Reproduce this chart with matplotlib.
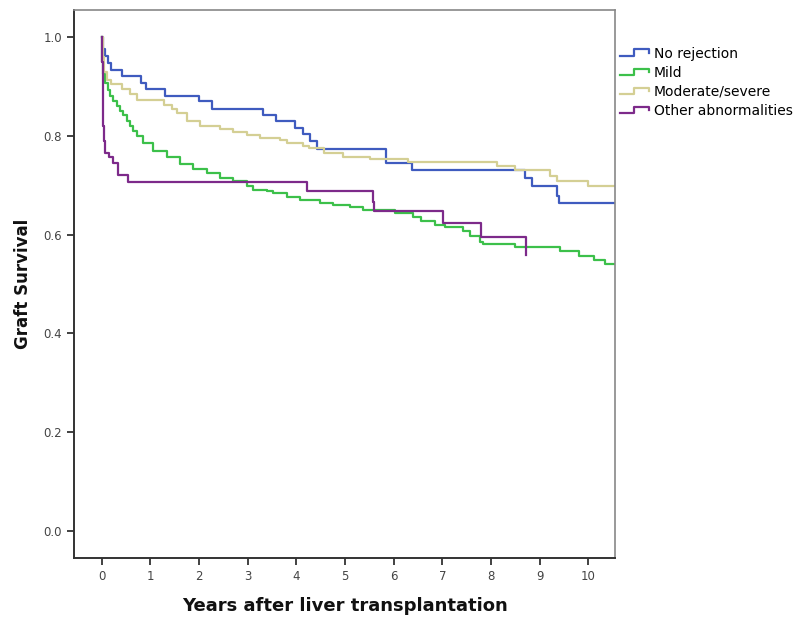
import numpy as np
import matplotlib
matplotlib.use("Agg")
import matplotlib.pyplot as plt
from matplotlib.lines import Line2D
from matplotlib.legend_handler import HandlerLine2D

# Kaplan-Meier estimates (time in years, survival after each step)
no_rej_t = [0, 0.02, 0.06, 0.12, 0.2, 0.41, 0.80, 0.91, 1.30, 2.0, 2.26, 3.31, 3.58,
            3.98, 4.13, 4.28, 4.42, 5.84, 6.37, 8.70, 8.84, 9.35, 9.39, 10.55]
no_rej_s = [1.0, 0.975, 0.961, 0.948, 0.934, 0.922, 0.907, 0.895, 0.881, 0.870, 0.855, 0.842,
            0.829, 0.816, 0.804, 0.789, 0.774, 0.745, 0.730, 0.715, 0.698, 0.679, 0.663, 0.663]

mild_t = [0, 0.01, 0.03, 0.07, 0.12, 0.17, 0.24, 0.31, 0.37, 0.44, 0.51, 0.58, 0.65, 0.72,
          0.85, 1.06, 1.34, 1.61, 1.88, 2.16, 2.43, 2.70, 2.98, 3.11, 3.39, 3.52, 3.80,
          4.08, 4.49, 4.76, 5.10, 5.38, 6.03, 6.40, 6.57, 6.84, 7.05, 7.43, 7.56, 7.77,
          7.84, 8.49, 9.42, 9.80, 10.11, 10.35, 10.55]
mild_s = [1.0, 0.95, 0.925, 0.907, 0.893, 0.880, 0.870, 0.860, 0.851, 0.843, 0.831, 0.819,
          0.809, 0.799, 0.786, 0.769, 0.758, 0.742, 0.733, 0.725, 0.715, 0.708, 0.698,
          0.691, 0.688, 0.684, 0.677, 0.671, 0.664, 0.659, 0.656, 0.649, 0.644, 0.636,
          0.627, 0.620, 0.615, 0.607, 0.598, 0.586, 0.580, 0.574, 0.566, 0.557, 0.549,
          0.541, 0.541]

mod_t = [0, 0.02, 0.05, 0.10, 0.20, 0.41, 0.58, 0.72, 1.27, 1.45, 1.54, 1.75, 2.02, 2.43,
         2.70, 2.98, 3.25, 3.66, 3.80, 4.14, 4.25, 4.56, 4.96, 5.51, 6.29, 8.12, 8.49,
         9.21, 9.35, 10.0, 10.55]
mod_s = [1.0, 0.96, 0.93, 0.914, 0.904, 0.894, 0.884, 0.873, 0.863, 0.855, 0.847, 0.829,
         0.819, 0.813, 0.808, 0.802, 0.796, 0.791, 0.786, 0.780, 0.775, 0.765, 0.758,
         0.753, 0.746, 0.738, 0.730, 0.719, 0.708, 0.698, 0.698]

other_t = [0, 0.01, 0.02, 0.03, 0.05, 0.07, 0.14, 0.24, 0.34, 0.55, 4.21, 5.57, 5.59,
           7.02, 7.79, 8.73]
other_s = [1.0, 0.95, 0.87, 0.819, 0.79, 0.765, 0.758, 0.745, 0.721, 0.706, 0.689, 0.665,
           0.647, 0.624, 0.595, 0.559]

labels = ["No rejection", "Mild", "Moderate/severe", "Other abnormalities"]
colors = ["#3f5bbf", "#3cc04a", "#d4cf94", "#7d2a8a"]


class StepHandler(HandlerLine2D):
    # legend key drawn as a small step, like SPSS does
    def create_artists(self, legend, orig_handle, xdescent, ydescent, width, height,
                       fontsize, trans):
        x0 = -xdescent
        lo = -ydescent + height * 0.2
        hi = -ydescent + height * 0.85
        xs = [x0, x0 + width * 0.45, x0 + width * 0.45, x0 + width * 0.95, x0 + width * 0.95]
        ys = [lo, lo, hi, hi, hi - height * 0.35]
        ln = Line2D(xs, ys, color=orig_handle.get_color(), lw=orig_handle.get_linewidth())
        ln.set_transform(trans)
        return [ln]


fig = plt.figure(figsize=(8.04, 6.18), dpi=100)
ax = fig.add_axes([0.092, 0.097, 0.673, 0.887])

series = [(no_rej_t, no_rej_s), (mild_t, mild_s), (mod_t, mod_s), (other_t, other_s)]
handles = []
for (t, s), lab, c in zip(series, labels, colors):
    h, = ax.step(t, s, where="post", color=c, lw=1.6, label=lab)
    handles.append(h)

ax.set_xlim(-0.57, 10.55)
ax.set_ylim(-0.055, 1.055)
ax.set_xticks(range(0, 11))
ax.set_yticks([0.0, 0.2, 0.4, 0.6, 0.8, 1.0])
ax.set_yticklabels(["0.0", "0.2", "0.4", "0.6", "0.8", "1.0"])
ax.tick_params(direction="out", length=5, width=1.3, colors="#333333", labelsize=8.5,
               labelcolor="#444444")

for side in ["left", "bottom"]:
    ax.spines[side].set_color("#333333")
    ax.spines[side].set_linewidth(1.4)
for side in ["top", "right"]:
    ax.spines[side].set_color("#888888")
    ax.spines[side].set_linewidth(1.2)

ax.set_xlabel("Years after liver transplantation", fontsize=13, fontweight="bold",
              color="#111111", labelpad=10)
ax.set_ylabel("Graft Survival", fontsize=12, fontweight="bold", color="#111111",
              labelpad=8)

leg = ax.legend(handles=handles, labels=labels, loc="upper left",
                bbox_to_anchor=(0.999, 0.943), frameon=False, fontsize=10,
                handler_map={Line2D: StepHandler()}, handlelength=2.2,
                handletextpad=0.25, labelspacing=0.37, borderaxespad=0.0)

fig.savefig("out.png", dpi=100)
